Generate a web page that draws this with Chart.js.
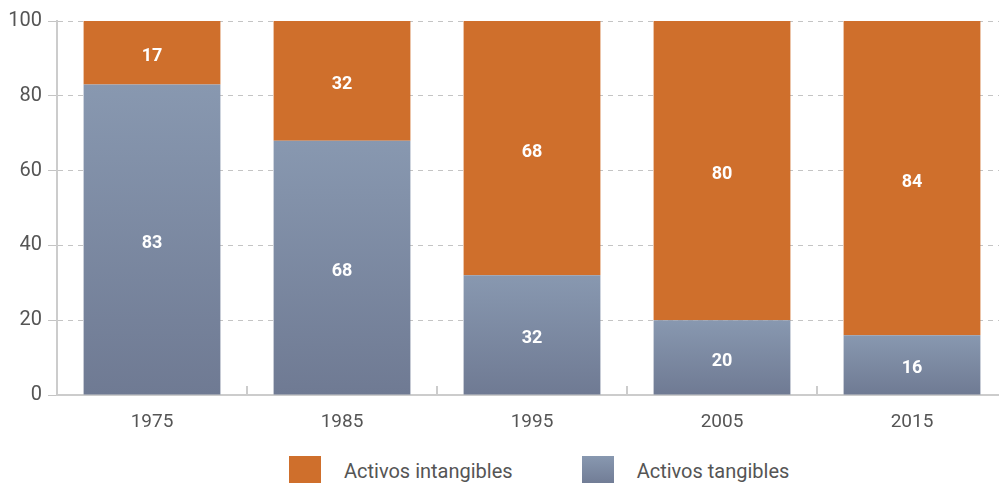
<!DOCTYPE html>
<html>
<head>
<meta charset="utf-8">
<script src="https://cdn.jsdelivr.net/npm/chart.js@4.4.0/dist/chart.umd.min.js"></script>
<style>
    html, body { margin: 0; padding: 0; background: #fff; overflow: hidden; }
    #wrap { position: relative; width: 999px; height: 483px; overflow: hidden; }
    #chart { position: absolute; left: 0; top: 0; }
    .legend { position: absolute; left: 289px; top: 456px; display: flex; align-items: center;
        font-family: Roboto, sans-serif; font-size: 20px; color: #555; }
    .legend .item { display: flex; align-items: center; }
    .legend .box { width: 32px; height: 30px; margin-right: 23px; }
</style>
</head>
<body>
<div id="wrap">
    <canvas id="chart" width="1010" height="440"></canvas>
    <div class="legend">
        <div class="item"><span class="box" style="background:#cf6f2c"></span><span>Activos intangibles</span></div>
        <div class="item" style="margin-left:69px"><span class="box" style="background:linear-gradient(#8898b0,#6f7a93)"></span><span>Activos tangibles</span></div>
    </div>
</div>
<script>
const years = ["1975", "1985", "1995", "2005", "2015"];
const tangibles = [83, 68, 32, 20, 16];
const intangibles = [17, 32, 68, 80, 84];
const yTicks = [0, 20, 40, 60, 80, 100];

const orange = "#cf6f2c";
const grayTop = "#8898b0";
const grayBottom = "#6f7a93";

// gradient runs over each bar on its own, light at top
function tangibleFill(ctx) {
    const chart = ctx.chart;
    if (!chart.chartArea || ctx.type !== "data") return grayTop;
    const y = chart.scales.y;
    const top = y.getPixelForValue(ctx.raw);
    const bottom = y.getPixelForValue(0);
    const g = chart.ctx.createLinearGradient(0, top, 0, bottom);
    g.addColorStop(0, grayTop);
    g.addColorStop(1, grayBottom);
    return g;
}

const valueLabels = {
    id: "valueLabels",
    afterDatasetsDraw(chart) {
        const c = chart.ctx;
        c.save();
        c.font = "bold 18px Roboto, sans-serif";
        c.fillStyle = "#fff";
        c.textAlign = "center";
        c.textBaseline = "middle";
        chart.data.datasets.forEach((ds, i) => {
            chart.getDatasetMeta(i).data.forEach((bar, j) => {
                const p = bar.getCenterPoint();
                c.fillText(String(ds.data[j]), p.x, p.y + 4);
            });
        });
        c.restore();
    },
};

const categoryTicks = {
    id: "categoryTicks",
    afterDraw(chart) {
        const x = chart.scales.x;
        const bottom = chart.chartArea.bottom;
        const step = x.getPixelForValue(1) - x.getPixelForValue(0);
        const c = chart.ctx;
        c.save();
        c.strokeStyle = "#cccccc";
        c.lineWidth = 2;
        for (let i = 1; i < years.length; i++) {
            const px = x.getPixelForValue(i) - step / 2;
            c.beginPath();
            c.moveTo(px, bottom - 9);
            c.lineTo(px, bottom);
            c.stroke();
        }
        c.restore();
    },
};

new Chart(document.getElementById("chart"), {
    type: "bar",
    data: {
        labels: years,
        datasets: [
            {
                label: "Activos tangibles",
                data: tangibles,
                backgroundColor: tangibleFill,
            },
            {
                label: "Activos intangibles",
                data: intangibles,
                backgroundColor: orange,
            },
        ],
    },
    options: {
        responsive: false,
        animation: false,
        categoryPercentage: 1,
        barPercentage: 0.72,
        layout: { padding: { top: 21, right: 3, left: 0, bottom: 0 } },
        plugins: {
            legend: { display: false },
            tooltip: { enabled: false },
        },
        scales: {
            x: {
                stacked: true,
                grid: { display: false, drawTicks: false },
                border: { display: true, color: "#cccccc", width: 2 },
                ticks: {
                    color: "#555",
                    padding: 16,
                    font: { family: "Roboto, sans-serif", size: 19 },
                },
                afterFit(scale) { scale.height = 45; },
            },
            y: {
                stacked: true,
                min: 0,
                max: 100,
                afterBuildTicks(scale) { scale.ticks = yTicks.map(v => ({ value: v })); },
                grid: {
                    color: "#c4c4c4",
                    lineWidth: 1,
                    tickBorderDash: [],
                    tickLength: 9,
                },
                border: { display: true, color: "#cccccc", width: 2, dash: [5, 5] },
                ticks: {
                    color: "#555",
                    padding: 6,
                    font: { family: "Roboto, sans-serif", size: 20 },
                },
                afterFit(scale) { scale.width = 57; },
            },
        },
    },
    plugins: [valueLabels, categoryTicks],
});
</script>
</body>
</html>
